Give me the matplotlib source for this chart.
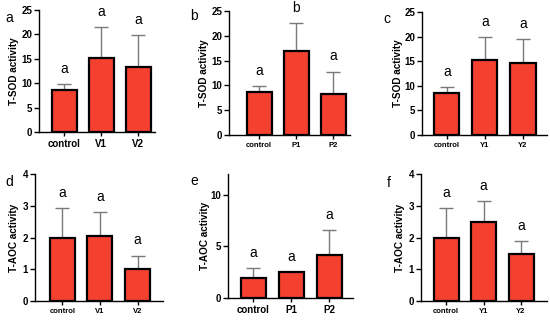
import matplotlib
matplotlib.use("Agg")
import matplotlib.pyplot as plt

plt.rcParams['font.family'] = ['Liberation Sans', 'DejaVu Sans']

W, H = 550, 320

# ---- data ----
cats_a = ["control", "V1", "V2"]
vals_a = [8.7, 15.2, 13.3]
errs_a = [1.1, 6.4, 6.5]
sig_a = ["a", "a", "a"]

cats_b = ["control", "P1", "P2"]
vals_b = [8.6, 17.0, 8.2]
errs_b = [1.2, 5.6, 4.6]
sig_b = ["a", "b", "a"]

cats_c = ["control", "Y1", "Y2"]
vals_c = [8.6, 15.2, 14.7]
errs_c = [1.2, 4.8, 4.8]
sig_c = ["a", "a", "a"]

cats_d = ["control", "V1", "V2"]
vals_d = [2.0, 2.05, 1.0]
errs_d = [0.93, 0.75, 0.43]
sig_d = ["a", "a", "a"]

cats_e = ["control", "P1", "P2"]
vals_e = [1.95, 2.48, 4.2]
errs_e = [0.95, 0.04, 2.35]
sig_e = ["a", "a", "a"]

cats_f = ["control", "Y1", "Y2"]
vals_f = [2.0, 2.48, 1.48]
errs_f = [0.93, 0.67, 0.4]
sig_f = ["a", "a", "a"]

fig = plt.figure(figsize=(W / 100, H / 100), dpi=100)

panels = [
    # letter, cats, vals, errs, sig, ylabel, ylim, yticks, rect(l,t,r,b), c0, s, letter pos, ylabel x, xtick size
    ("a", cats_a, vals_a, errs_a, sig_a, "T-SOD activity", 25, [0, 5, 10, 15, 20, 25],
     (39, 10, 155, 132), 64, 37, (5, 18), 14, 7),
    ("b", cats_b, vals_b, errs_b, sig_b, "T-SOD activity", 25, [0, 5, 10, 15, 20, 25],
     (229, 11, 350, 135), 259, 37, (190, 16), 204, 5.5),
    ("c", cats_c, vals_c, errs_c, sig_c, "T-SOD activity", 25, [0, 5, 10, 15, 20, 25],
     (422, 12, 547, 135), 447, 38, (383, 19), 398, 5.5),
    ("d", cats_d, vals_d, errs_d, sig_d, "T-AOC activity", 4, [0, 1, 2, 3, 4],
     (35, 174, 163, 301), 62.5, 37.5, (5, 182), 14, 5.5),
    ("e", cats_e, vals_e, errs_e, sig_e, "T-AOC activity", 12, [0, 5, 10],
     (228, 174, 353, 298), 253, 38, (190, 181), 205, 7),
    ("f", cats_f, vals_f, errs_f, sig_f, "T-AOC activity", 4, [0, 1, 2, 3, 4],
     (421, 174, 547, 301), 446, 37.5, (387, 183), 400, 5.5),
]

for (letter, cats, vals, errs, sig, ylab, ymax, yticks, rect, c0, s, lpos, ylx, xts) in panels:
    l, t, r, b = rect
    ax = fig.add_axes([l / W, 1 - b / H, (r - l) / W, (b - t) / H])
    x = list(range(len(cats)))
    ax.bar(x, vals, width=25 / s, color="#f4412f", edgecolor="black", linewidth=1.6, zorder=2)
    ax.errorbar(x, vals, yerr=[[0] * len(errs), errs], fmt="none", ecolor="#7a7a7a",
                elinewidth=1.0, capsize=5, capthick=1.0, zorder=1)
    for xi, v, e, sg in zip(x, vals, errs, sig):
        ax.text(xi, v + e + 0.065 * ymax, sg, ha="center", va="bottom", fontsize=10)
    ax.set_xlim((l - c0) / s, (r - c0) / s)
    ax.set_ylim(0, ymax)
    ax.set_yticks(yticks)
    ax.set_xticks(x)
    ax.set_xticklabels(cats, fontsize=xts, fontweight="bold")
    for lab in ax.get_yticklabels():
        lab.set_fontweight("bold")
        lab.set_fontsize(7)
    ax.spines["top"].set_visible(False)
    ax.spines["right"].set_visible(False)
    ax.spines["left"].set_linewidth(1.0)
    ax.spines["bottom"].set_linewidth(1.0)
    ax.tick_params(axis="y", length=3.5, width=1.0, pad=1.5)
    ax.tick_params(axis="x", length=3, width=1.0, pad=2)
    fig.text(ylx / W, 1 - ((t + b) / 2) / H, ylab, rotation=90, ha="center", va="center",
             fontsize=7.2, fontweight="bold")
    fig.text(lpos[0] / W, 1 - lpos[1] / H, letter, ha="left", va="center", fontsize=10)

fig.savefig("out.png", dpi=100)
